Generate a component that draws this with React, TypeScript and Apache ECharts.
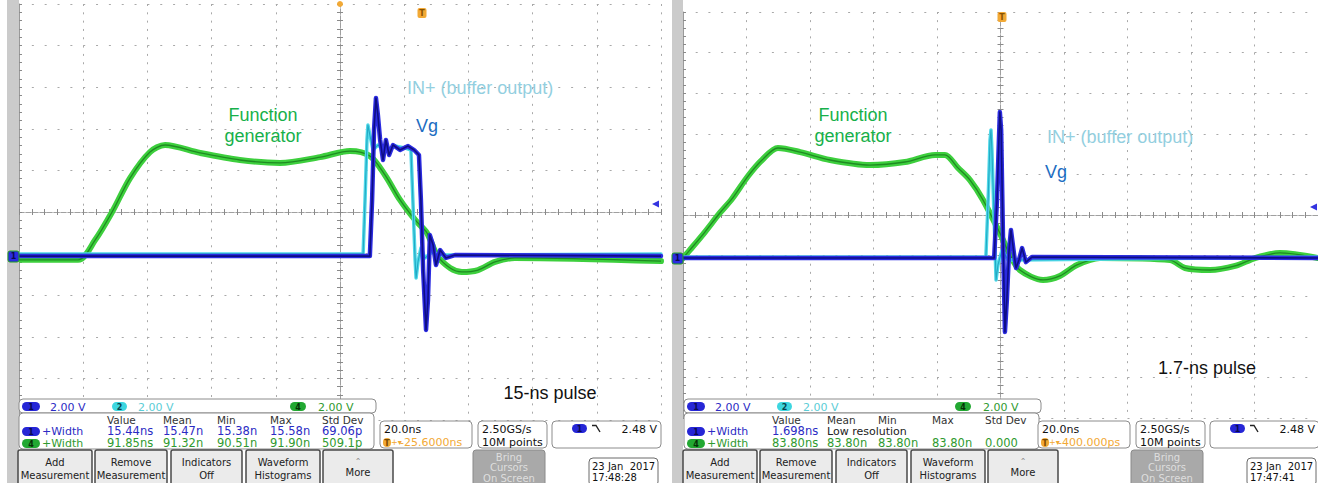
import React, { useEffect, useRef } from "react";
import * as echarts from "echarts";

// ---------- Waveform data (time in ns, amplitude in V; 20 ns/div, 2 V/div) ----------
// Left scope shot: 15-ns pulse
const LEFT_GREEN_T = [-100, -81.6, -76.3, -71.0, -65.4, -59.2, -54.5, -43.6, -31.2, -18.7, -6.2, 3.1, 9.3, 14.0, 18.7, 23.4, 27.1, 30.2, 34.3, 38.0, 43.0, 48.3, 54.5, 100];
const LEFT_GREEN_V = [-2.3, -2.3, -1.35, 0, 1.63, 2.88, 3.22, 2.84, 2.5, 2.36, 2.64, 2.93, 2.69, 1.78, 0.58, -0.38, -1.01, -2.07, -2.69, -2.88, -2.79, -2.4, -2.21, -2.36];
const LEFT_CYAN_T = [-100, 7.2, 7.8, 8.4, 8.7, 9.3, 10.3, 11.8, 14.0, 17.1, 20.2, 22.1, 22.7, 23.4, 23.7, 24.3, 25.2, 26.5, 28.7, 31.2, 100];
const LEFT_CYAN_V = [-2.02, -2.02, 0.58, 3.46, 4.18, 3.7, 2.98, 3.22, 2.98, 3.17, 3.08, 2.98, 0.58, -2.31, -3.17, -2.4, -1.73, -2.21, -1.92, -2.07, -2.02];
const LEFT_BLUE_T = [-100, 9.3, 10.0, 10.6, 11.2, 11.8, 12.5, 13.4, 14.3, 15.3, 16.5, 18.7, 21.2, 23.1, 24.6, 25.2, 25.9, 26.8, 27.4, 28.0, 29.0, 29.9, 31.2, 33.0, 35.8, 100];
const LEFT_BLUE_V = [-2.12, -2.12, 0.58, 3.94, 5.48, 4.66, 3.46, 2.5, 3.46, 2.74, 3.22, 2.98, 3.17, 2.98, 2.74, 0.58, -2.79, -5.67, -4.23, -1.11, -1.59, -2.55, -1.83, -2.21, -2.07, -2.12];

// Right scope shot: 1.7-ns pulse
const RIGHT_GREEN_T = [-100, -97.8, -93.1, -88.4, -84.6, -79.5, -75.1, -70.1, -63.1, -53.7, -41.1, -30.1, -20.6, -17.5, -13.4, -9.6, -5.5, -0.2, 3.0, 6.1, 13.4, 18.7, 24.1, 31.3, 53.4, 58.1, 66.0, 73.9, 80.2, 88.0, 100];
const RIGHT_GREEN_V = [-2.12, -1.72, -0.84, 0.1, 0.79, 1.92, 2.71, 3.3, 3.1, 2.71, 2.46, 2.61, 2.96, 2.96, 2.32, 1.72, 0.74, -0.89, -1.97, -2.71, -3.2, -3.0, -2.46, -2.12, -2.22, -2.61, -2.71, -2.51, -2.12, -1.87, -2.12];
const RIGHT_CYAN_T = [-100, -4.6, -3.9, -3.3, -3.0, -2.7, -2.0, -1.4, -0.8, 0.5, 2.4, 100];
const RIGHT_CYAN_V = [-2.07, -2.07, 0.74, 3.69, 4.19, 3.2, -0.25, -3.2, -2.46, -1.72, -2.22, -2.07];
const RIGHT_BLUE_T = [-100, -2.0, -1.1, -0.5, -0.2, 0.2, 0.8, 1.4, 2.0, 2.7, 3.3, 4.3, 4.9, 5.8, 6.8, 8.0, 9.9, 100];
const RIGHT_BLUE_V = [-2.12, -2.12, 0.74, 3.69, 5.07, 4.19, -1.23, -5.76, -4.19, -1.72, -0.74, -1.97, -2.61, -2.22, -1.63, -2.32, -2.07, -2.12];

// ---------- Readout texts ----------
const MEAS_HEADERS = ["Value", "Mean", "Min", "Max", "Std Dev"];
const LEFT_ROW1 = ["15.44ns", "15.47n", "15.38n", "15.58n", "69.06p"];
const LEFT_ROW2 = ["91.85ns", "91.32n", "90.51n", "91.90n", "509.1p"];
const RIGHT_ROW1 = ["1.698ns", "Low resolution"];
const RIGHT_ROW2 = ["83.80ns", "83.80n", "83.80n", "83.80n", "0.000"];
const CH_SCALES = ["2.00 V", "2.00 V", "2.00 V"];
const TIMEBASE = "20.0ns";
const LEFT_TRIG_POS = "-25.6000ns";
const RIGHT_TRIG_POS = "-400.000ps";
const SAMPLE_RATE = ["2.50GS/s", "10M points"];
const TRIG_LEVEL = "2.48 V";
const LEFT_DATE = ["23 Jan  2017", "17:48:28"];
const RIGHT_DATE = ["23 Jan  2017", "17:47:41"];
const BUTTONS = [["Add", "Measurement"], ["Remove", "Measurement"], ["Indicators", "Off"], ["Waveform", "Histograms"], ["More"]];
const LEFT_PULSE_LABEL = "15-ns pulse";
const RIGHT_PULSE_LABEL = "1.7-ns pulse";

const zip = (t: number[], v: number[]) => t.map((x, i) => [x, v[i]]);

const UI = "DejaVu Sans";
const NOTE = "Liberation Sans";
const BLUE_PILL = "#2626d6";
const BLUE_TXT = "#2b2bc4";
const CYAN_PILL = "#3dd6e0";
const CYAN_TXT = "#5ccdd6";
const GREEN_PILL = "#22a832";
const GREEN_TXT = "#2f9a2f";
const ORANGE = "#f2a935";
const BORDER = "#8c8c8c";

function rect(x: number, y: number, w: number, h: number, fill: string, stroke?: string, r = 0, lw = 1, z = 100): any {
  return { type: "rect", z, silent: true, shape: { x, y, width: w, height: h, r }, style: { fill, stroke: stroke || "none", lineWidth: lw } };
}
function text(s: string, x: number, y: number, fill: string, size: number, align = "left", family = UI, weight = "normal", z = 101): any {
  return {
    type: "text", z, x, y, silent: true,
    style: { text: s, fill, fontSize: size, fontFamily: family, fontWeight: weight, textAlign: align, textVerticalAlign: "middle", align, verticalAlign: "middle" },
  };
}
function pill(x: number, y: number, w: number, h: number, fill: string, label: string, labelColor: string): any[] {
  return [rect(x, y, w, h, fill, undefined, h / 2, 1, 102), text(label, x + w / 2, y + h / 2 + 0.5, labelColor, 8, "center", UI, "bold", 103)];
}

function bottomPanel(mx: number, bx: number, cols: number[], row1: string[], row2: string[], lowRes: boolean, trigPos: string, date: string[]): any[] {
  const els: any[] = [];
  // channel scale row
  els.push(rect(19 + mx, 399, 357, 14, "#fff", BORDER, 4));
  els.push(...pill(22 + mx, 402, 18, 9, BLUE_PILL, "1", "#0a0a50"));
  els.push(text(CH_SCALES[0], 50 + mx, 407, BLUE_TXT, 11));
  els.push(...pill(112 + mx, 402, 15, 9, CYAN_PILL, "2", "#064550"));
  els.push(text(CH_SCALES[1], 138 + mx, 407, CYAN_TXT, 11));
  els.push(...pill(290 + mx, 402, 16, 9, GREEN_PILL, "4", "#063006"));
  els.push(text(CH_SCALES[2], 318 + mx, 407, GREEN_TXT, 11));
  // measurement box
  els.push(rect(19 + mx, 413, 355, 36, "#fff", BORDER, 4));
  MEAS_HEADERS.forEach((h, i) => els.push(text(h, cols[i], 420, "#333", 10.5)));
  els.push(...pill(22 + mx, 427, 18, 9, BLUE_PILL, "1", "#0a0a50"));
  els.push(text("+Width", 42 + mx, 431, BLUE_TXT, 11));
  if (lowRes) {
    els.push(text(row1[0], cols[0], 431, BLUE_TXT, 11.5));
    els.push(text(row1[1], cols[1], 431, "#222", 11));
  } else {
    row1.forEach((v, i) => els.push(text(v, cols[i], 431, BLUE_TXT, 11.5)));
  }
  els.push(...pill(22 + mx, 439, 18, 9, GREEN_PILL, "4", "#063006"));
  els.push(text("+Width", 42 + mx, 443, GREEN_TXT, 11));
  row2.forEach((v, i) => els.push(text(v, cols[i], 443, GREEN_TXT, 11.5)));
  // timebase box
  els.push(rect(380 + bx, 421, 92, 27, "#fff", BORDER, 4));
  els.push(text(TIMEBASE, 384 + bx, 429, "#111", 11));
  els.push(...pill(383 + bx, 438, 8, 9, ORANGE, "T", "#7a4a00"));
  els.push(text("+▾", 391 + bx, 442.5, ORANGE, 8));
  els.push(text(trigPos, 400 + bx, 442.5, ORANGE, 11));
  // sample box
  els.push(rect(478 + bx, 421, 69, 27, "#fff", BORDER, 4));
  els.push(text(SAMPLE_RATE[0], 482 + bx, 429, "#111", 11));
  els.push(text(SAMPLE_RATE[1], 482 + bx, 442, "#111", 11));
  // trigger box
  els.push(rect(552 + bx, 421, 109, 27, "#fff", BORDER, 4));
  els.push(...pill(572 + bx, 424, 15, 9, BLUE_PILL, "1", "#0a0a50"));
  els.push({ type: "polyline", z: 102, silent: true, shape: { points: [[592 + bx, 425.5], [596 + bx, 425.5], [600 + bx, 432]] }, style: { stroke: "#222", lineWidth: 1.4, fill: "none" } });
  els.push(text(TRIG_LEVEL, 657 + bx, 429, "#111", 11, "right"));
  // buttons
  const bxs = [[18, 92], [95, 167], [171, 242], [246, 320], [323, 393]];
  BUTTONS.forEach((lines, i) => {
    const [a, b] = bxs[i];
    els.push(rect(a + mx, 450, b - a, 36, "#ebebeb", "#4a4a4a", 2, 1.5));
    const cx = (a + b) / 2 + mx;
    if (lines.length === 2) {
      els.push(text(lines[0], cx, 462, "#222", 10, "center"));
      els.push(text(lines[1], cx, 475, "#222", 10, "center"));
    } else {
      els.push(text("⌃", cx, 461, "#888", 8, "center"));
      els.push(text(lines[0], cx, 472, "#222", 10, "center"));
    }
  });
  // bring cursors (disabled)
  els.push(rect(473 + bx, 450, 72, 36, "#a9a9a9", "#8a8a8a", 3));
  els.push(text("Bring", 509 + bx, 457, "#dedede", 10, "center"));
  els.push(text("Cursors", 509 + bx, 467.5, "#dedede", 10, "center"));
  els.push(text("On Screen", 509 + bx, 478, "#dedede", 10, "center"));
  // date box
  els.push(rect(589 + bx, 458, 69, 28, "#fff", "#6a6a6a", 4));
  els.push(text(date[0], 592 + bx, 466, "#111", 10));
  els.push(text(date[1], 592 + bx, 477, "#111", 10));
  return els;
}

function axesFor(g: number, hDash: number[], vDash: number[]) {
  const xBase = g * 2;
  const yBase = g * 3;
  const tick = { show: true, inside: true, length: 3, lineStyle: { color: "#8a8a8a", width: 1 } };
  const minor = { show: true, splitNumber: 5, length: 3, lineStyle: { color: "#8a8a8a", width: 1 } };
  const centerLine = { color: "#a0a0a0", width: 1, type: [5, 2] };
  const gridDots = "#a9a9a9";
  const xAxes = [
    {
      gridIndex: g, type: "value", min: -100, max: 100, interval: 20, position: "bottom",
      axisLine: { show: true, onZero: true, onZeroAxisIndex: yBase, lineStyle: centerLine },
      axisTick: tick, minorTick: minor, axisLabel: { show: false },
      splitLine: { show: true, lineStyle: { color: gridDots, type: vDash, width: 1 } },
    },
    {
      gridIndex: g, type: "value", min: -100, max: 100, interval: 20, position: "top",
      axisLine: { show: true, onZero: true, onZeroAxisIndex: yBase, lineStyle: centerLine },
      axisTick: tick, minorTick: minor, axisLabel: { show: false }, splitLine: { show: false },
    },
  ];
  const yAxes = [
    {
      gridIndex: g, type: "value", min: -10, max: 10, interval: 2, position: "left",
      axisLine: { show: true, onZero: false, lineStyle: { color: "#9a9a9a", width: 1 } },
      axisTick: tick, minorTick: minor, axisLabel: { show: false },
      splitLine: { show: true, lineStyle: { color: gridDots, type: hDash, width: 1 } },
    },
    {
      gridIndex: g, type: "value", min: -10, max: 10, interval: 2, position: "left",
      axisLine: { show: true, onZero: true, onZeroAxisIndex: xBase, lineStyle: centerLine },
      axisTick: tick, minorTick: minor, axisLabel: { show: false }, splitLine: { show: false },
    },
    {
      gridIndex: g, type: "value", min: -10, max: 10, interval: 2, position: "right",
      axisLine: { show: true, onZero: true, onZeroAxisIndex: xBase, lineStyle: centerLine },
      axisTick: tick, minorTick: minor, axisLabel: { show: false }, splitLine: { show: false },
    },
  ];
  return { xAxes, yAxes, xBase, yBase };
}

function trace(data: number[][], xi: number, yi: number, band: string, core: string, bw: number, cw: number, z: number, smooth: number | boolean) {
  const base = { type: "line", xAxisIndex: xi, yAxisIndex: yi, data, symbol: "none", showSymbol: false, silent: true, smooth, clip: true };
  return [
    { ...base, z, lineStyle: { color: band, width: bw, join: "round", cap: "round" } },
    { ...base, z: z + 0.5, lineStyle: { color: core, width: cw, join: "round" } },
  ];
}

function buildOption() {
  const L = axesFor(0, [2, 10.84], [2, 6.32]);
  const R = axesFor(1, [2, 10.7], [2, 6.12]);
  const series: any[] = [
    ...trace(zip(LEFT_GREEN_T, LEFT_GREEN_V), L.xBase, L.yBase, "#3dcf3d", "#1f8a22", 6, 1.3, 3, 0.3),
    ...trace(zip(LEFT_CYAN_T, LEFT_CYAN_V), L.xBase, L.yBase, "#4fd8e8", "#22a9c4", 3.5, 1.1, 4, false),
    ...trace(zip(LEFT_BLUE_T, LEFT_BLUE_V), L.xBase, L.yBase, "#2b2be0", "#0e0e84", 4.5, 1.6, 5, false),
    ...trace(zip(RIGHT_GREEN_T, RIGHT_GREEN_V), R.xBase, R.yBase, "#3dcf3d", "#1f8a22", 6, 1.3, 3, 0.3),
    ...trace(zip(RIGHT_CYAN_T, RIGHT_CYAN_V), R.xBase, R.yBase, "#4fd8e8", "#22a9c4", 3.5, 1.1, 4, false),
    ...trace(zip(RIGHT_BLUE_T, RIGHT_BLUE_V), R.xBase, R.yBase, "#2b2be0", "#0e0e84", 4.5, 1.6, 5, false),
  ];

  const g: any[] = [];
  // side strips
  g.push(rect(7, 0, 12, 483, "#cbcbcb", undefined, 0, 1, 90));
  g.push(rect(672, 0, 11, 483, "#cbcbcb", undefined, 0, 1, 90));
  // channel ground markers
  g.push(rect(8, 251, 11, 11, "#2a2ae0", "#20a020", 2, 1, 95));
  g.push(text("1", 13.5, 256.8, "#0a0a50", 8, "center", UI, "bold", 96));
  g.push(rect(672, 253, 11, 11, "#2a2ae0", "#20a020", 2, 1, 95));
  g.push(text("1", 677.5, 258.8, "#0a0a50", 8, "center", UI, "bold", 96));
  // trigger level arrows
  g.push({ type: "polygon", z: 95, silent: true, shape: { points: [[652, 204], [659, 200.5], [659, 207.5]] }, style: { fill: "#3434e0" } });
  g.push({ type: "polygon", z: 95, silent: true, shape: { points: [[1310, 207], [1317, 203.5], [1317, 210.5]] }, style: { fill: "#3434e0" } });
  // trigger position markers
  g.push({ type: "circle", z: 95, silent: true, shape: { cx: 340, cy: 4, r: 3 }, style: { fill: ORANGE } });
  g.push(rect(417.5, 8, 9, 10, ORANGE, undefined, 2, 1, 95));
  g.push(text("T", 422, 13.5, "#8a5200", 8, "center", UI, "bold", 96));
  g.push(rect(997.5, 12, 9, 10, ORANGE, undefined, 2, 1, 95));
  g.push(text("T", 1002, 17.5, "#8a5200", 8, "center", UI, "bold", 96));
  // annotations
  g.push(text("Function", 263, 115, "#16b04a", 18, "center", NOTE));
  g.push(text("generator", 263, 136, "#16b04a", 18, "center", NOTE));
  g.push(text("IN+ (buffer output)", 407, 88, "#93cfe0", 18, "left", NOTE));
  g.push(text("Vg", 416, 126, "#1c6dc2", 18, "left", NOTE));
  g.push(text(LEFT_PULSE_LABEL, 550, 393, "#111", 18, "center", NOTE));
  g.push(text("Function", 853, 115, "#16b04a", 18, "center", NOTE));
  g.push(text("generator", 853, 136, "#16b04a", 18, "center", NOTE));
  g.push(text("IN+ (buffer output)", 1047, 137, "#93cfe0", 18, "left", NOTE));
  g.push(text("Vg", 1045, 172, "#1c6dc2", 18, "left", NOTE));
  g.push(text(RIGHT_PULSE_LABEL, 1207, 368, "#111", 18, "center", NOTE));
  // readout panels
  g.push(...bottomPanel(0, 0, [107, 163, 217, 270, 322], LEFT_ROW1, LEFT_ROW2, false, LEFT_TRIG_POS, LEFT_DATE));
  g.push(...bottomPanel(665, 658, [772, 827, 878, 932, 985], RIGHT_ROW1, RIGHT_ROW2, true, RIGHT_TRIG_POS, RIGHT_DATE));

  return {
    animation: false,
    backgroundColor: "#ffffff",
    grid: [
      { left: 19, top: 4, width: 642, height: 416 },
      { left: 683, top: 12, width: 635, height: 406 },
    ],
    xAxis: [...L.xAxes, ...R.xAxes],
    yAxis: [...L.yAxes, ...R.yAxes],
    series,
    graphic: { elements: g },
  };
}

export default function App() {
  const ref = useRef<HTMLDivElement>(null);
  useEffect(() => {
    document.body.style.margin = "0";
    const chart = echarts.init(ref.current!, undefined, { renderer: "svg", width: 1318, height: 483 });
    chart.setOption(buildOption() as any);
    return () => chart.dispose();
  }, []);
  return <div ref={ref} style={{ position: "absolute", left: 0, top: 0, width: 1318, height: 483 }} />;
}
